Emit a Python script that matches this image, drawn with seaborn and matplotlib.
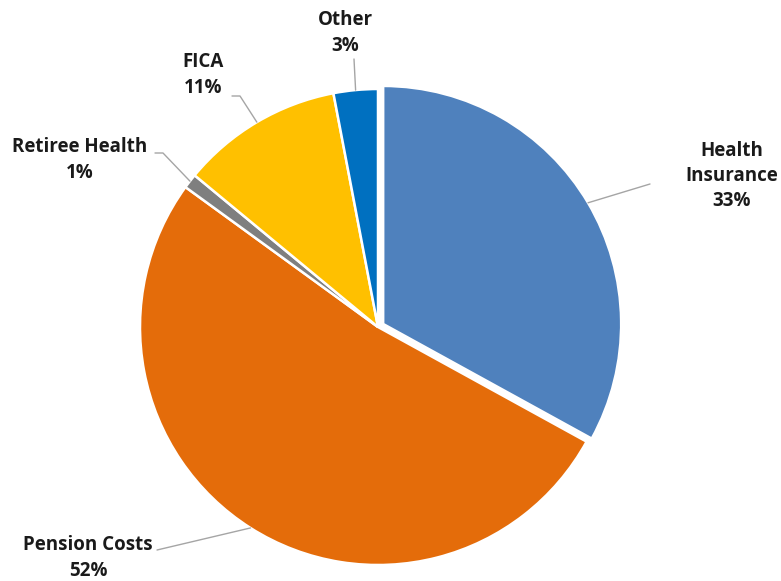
import numpy as np
import matplotlib
matplotlib.use("Agg")
import matplotlib.pyplot as plt
import seaborn as sns

# data
categories = ["Health\nInsurance", "Pension Costs", "Retiree Health", "FICA", "Other"]
shares = [33, 52, 1, 11, 3]
colors = ["#4F81BD", "#E46C0A", "#7F7F7F", "#FFC000", "#0070C0"]

# layout (pixels, y measured from the top of the image)
W, H = 781, 581
cx, cy, R = 378, 327, 238
explode = [6, 0, 0, 0, 0]  # pie explode is in data units (px here)
label_xy = [(732, 176), (88, 558), (80, 160), (203, 75), (345, 33)]
leader_pts = [[(650, 184)], [(157, 550)], [(163, 153), (155, 153)],
              [(240, 96), (232, 96)], [(354, 59)]]

sns.set_theme(style="white")
plt.rcParams["font.family"] = ["Open Sans", "DejaVu Sans"]

fig = plt.figure(figsize=(W / 100, H / 100), dpi=100)
ax = fig.add_axes([0, 0, 1, 1])

wedges, _ = ax.pie(shares, colors=sns.color_palette(colors), startangle=90,
                   counterclock=False, radius=R, center=(cx, H - cy),
                   explode=explode,
                   wedgeprops=dict(edgecolor="white", linewidth=1.8))

for w, cat, v, (tx, ty), pts in zip(wedges, categories, shares, label_xy, leader_pts):
    mid = np.deg2rad((w.theta1 + w.theta2) / 2)
    ex = w.center[0] + w.r * np.cos(mid)
    ey = w.center[1] + w.r * np.sin(mid)
    xs = [ex] + [p[0] for p in pts]
    ys = [ey] + [H - p[1] for p in pts]
    ax.plot(xs, ys, color="#A5A5A5", lw=1)
    ax.text(tx, H - ty, f"{cat}\n{v}%", ha="center", va="center",
            fontsize=13.5, fontweight="bold", color="#1a1a1a", linespacing=1.35)

ax.set_xlim(0, W)
ax.set_ylim(0, H)
ax.set_aspect("equal")
ax.axis("off")

fig.savefig("out.png", dpi=100)
